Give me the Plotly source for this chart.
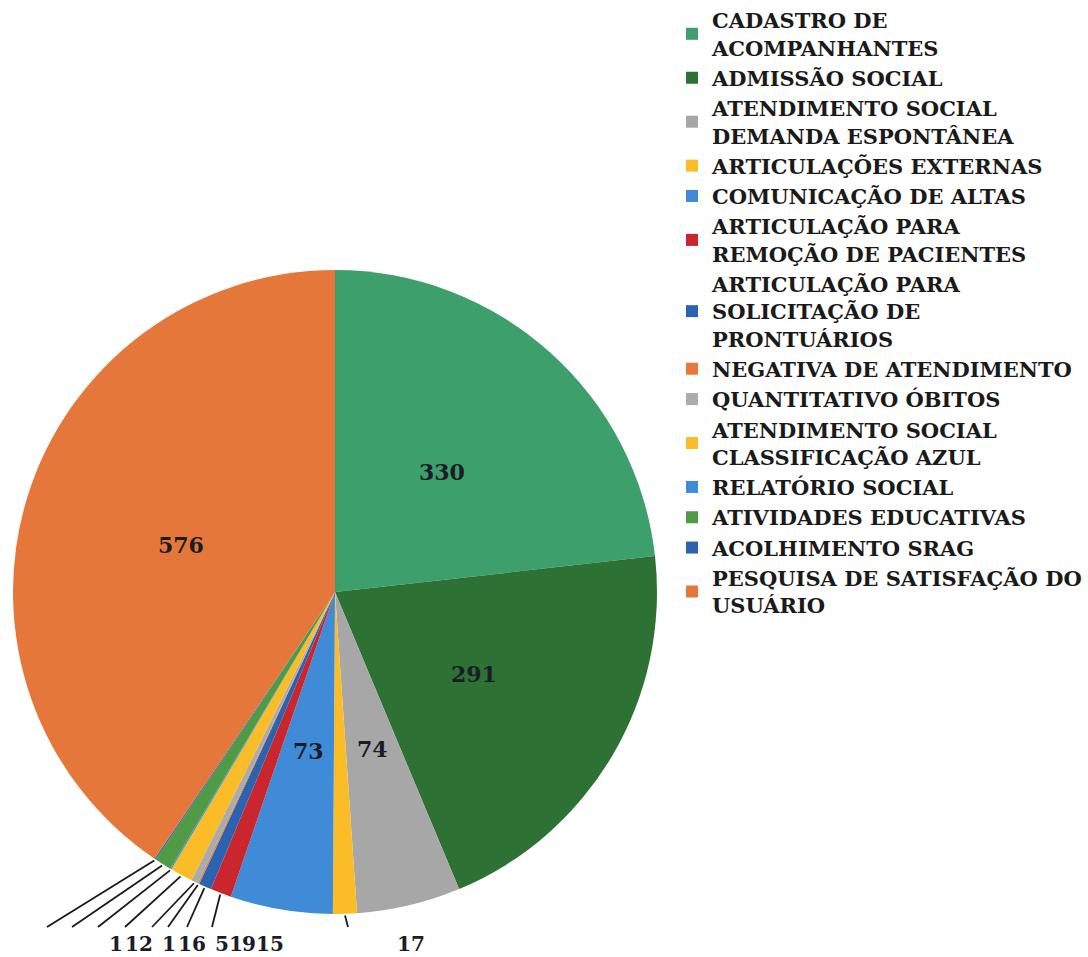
import numpy as np
import plotly.graph_objects as go

W, H = 1088, 957

categories = [
    "CADASTRO DE<br>ACOMPANHANTES",
    "ADMISSÃO SOCIAL",
    "ATENDIMENTO SOCIAL<br>DEMANDA ESPONTÂNEA",
    "ARTICULAÇÕES EXTERNAS",
    "COMUNICAÇÃO DE ALTAS",
    "ARTICULAÇÃO PARA<br>REMOÇÃO DE PACIENTES",
    "ARTICULAÇÃO PARA<br>SOLICITAÇÃO DE<br>PRONTUÁRIOS",
    "NEGATIVA DE ATENDIMENTO",
    "QUANTITATIVO ÓBITOS",
    "ATENDIMENTO SOCIAL<br>CLASSIFICAÇÃO AZUL",
    "RELATÓRIO SOCIAL",
    "ATIVIDADES EDUCATIVAS",
    "ACOLHIMENTO SRAG",
    "PESQUISA DE SATISFAÇÃO DO<br>USUÁRIO",
]
values = [330, 291, 74, 17, 73, 15, 9, 1, 5, 16, 1, 12, 1, 576]
colors = [
    "#3c9f6c", "#2d7135", "#a7a7a7", "#fbbd27", "#3f8bd8", "#c9262d", "#2c63b0",
    "#e8783a", "#ababab", "#fbbd27", "#3f8bd8", "#4f9a45", "#2c63b0", "#e6773a",
]

# layout (pixels)
CX, CY, R = 335, 592, 322
# leader-line end points and label anchors for the small slices (index -> layout)
LABEL_Y = 944
small_layout = {
    12: dict(end=(47, 927), label=(124, LABEL_Y), anchor="right"),
    11: dict(end=(72, 927), label=(124, LABEL_Y), anchor="left"),
    10: dict(end=(98, 927), label=(177, LABEL_Y), anchor="right"),
    9: dict(end=(125, 927), label=(177, LABEL_Y), anchor="left"),
    8: dict(end=(152, 927), label=(222, LABEL_Y), anchor="center"),
    7: dict(end=(168, 927), label=(236, LABEL_Y), anchor="center"),
    6: dict(end=(187, 927), label=(249, LABEL_Y), anchor="center"),
    5: dict(end=(212, 927), label=(270, LABEL_Y), anchor="center"),
    3: dict(end=(348, 927), label=(411, LABEL_Y), anchor="center"),
}

FONT = "DejaVu Serif"
TXT = "#1b1d26"

def px2paper(x, y):
    return x / W, 1 - y / H

fig = go.Figure()
fig.add_trace(go.Pie(
    labels=categories,
    values=values,
    marker=dict(colors=colors, line=dict(width=0)),
    sort=False,
    direction="clockwise",
    rotation=0,
    textinfo="none",
    hoverinfo="label+value",
    domain=dict(x=[(CX - R) / W, (CX + R) / W], y=[1 - (CY + R) / H, 1 - (CY - R) / H]),
))

vals = np.array(values, dtype=float)
total = vals.sum()
cum = np.cumsum(vals)
mid = np.deg2rad((cum - vals / 2) / total * 360.0)

annotations = []
shapes = []
for i, v in enumerate(values):
    th = mid[i]
    if i in small_layout:
        sx = CX + R * 1.005 * np.sin(th)
        sy = CY - R * 1.005 * np.cos(th)
        ex, ey = small_layout[i]["end"]
        x0, y0 = px2paper(sx, sy)
        x1, y1 = px2paper(ex, ey)
        shapes.append(dict(type="line", xref="paper", yref="paper", x0=x0, y0=y0, x1=x1, y1=y1,
                           line=dict(color="#1a1a1a", width=1.8)))
        lx, ly = px2paper(*small_layout[i]["label"])
        annotations.append(dict(x=lx, y=ly, xref="paper", yref="paper", text=str(v), showarrow=False,
                                xanchor=small_layout[i]["anchor"], yanchor="middle", borderpad=0,
                                font=dict(family=FONT, size=20, color=TXT, weight="bold")))
    else:
        tx = CX + R * 0.5 * np.sin(th)
        ty = CY - R * 0.5 * np.cos(th)
        ax_, ay_ = px2paper(tx, ty)
        annotations.append(dict(x=ax_, y=ay_, xref="paper", yref="paper", text=str(v), showarrow=False,
                                xanchor="center", yanchor="middle",
                                font=dict(family=FONT, size=22, color=TXT, weight="bold")))

fig.update_layout(
    width=W, height=H,
    margin=dict(l=0, r=0, t=0, b=0, autoexpand=False),
    paper_bgcolor="white",
    plot_bgcolor="white",
    showlegend=True,
    legend=dict(
        x=672 / W, y=1, xanchor="left", yanchor="top",
        font=dict(family=FONT, size=21, color="#1a1a1a", weight="bold"),
        bgcolor="rgba(0,0,0,0)", borderwidth=0, valign="middle",
        traceorder="normal",
    ),
    annotations=annotations,
    shapes=shapes,
)

fig.write_html("out.html", config={"displayModeBar": False},
               post_script="document.body.style.margin='0';")
